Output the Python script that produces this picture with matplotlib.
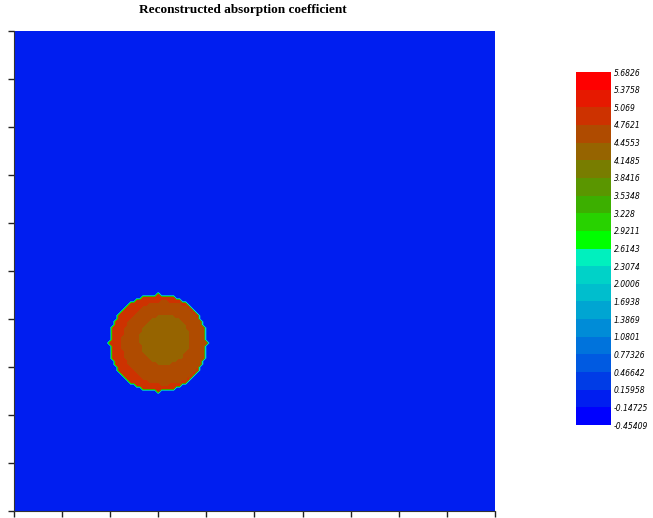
import numpy as np
import matplotlib
matplotlib.use("Agg")
import matplotlib.pyplot as plt
from matplotlib.colors import ListedColormap, BoundaryNorm
import matplotlib.colorbar as mcolorbar

# colour levels shown on the colour bar (bottom -> top)
niveis = [-0.45409, -0.14725, 0.15958, 0.46642, 0.77326, 1.0801, 1.3869,
          1.6938, 2.0006, 2.3074, 2.6143, 2.9211, 3.228, 3.5348, 3.8416,
          4.1485, 4.4553, 4.7621, 5.069, 5.3758, 5.6826]
rotulos = ["-0.45409", "-0.14725", "0.15958", "0.46642", "0.77326", "1.0801",
           "1.3869", "1.6938", "2.0006", "2.3074", "2.6143", "2.9211", "3.228",
           "3.5348", "3.8416", "4.1485", "4.4553", "4.7621", "5.069", "5.3758",
           "5.6826"]
cores = [
    (0, 0, 255), (0, 30, 240), (0, 60, 230), (0, 90, 225), (0, 115, 220),
    (0, 140, 215), (0, 165, 210), (0, 190, 205), (0, 210, 200), (0, 240, 190),
    (0, 255, 0), (40, 210, 0), (60, 175, 0), (90, 150, 0), (120, 125, 0),
    (150, 100, 0), (175, 75, 0), (205, 50, 0), (230, 25, 0), (255, 0, 0),
]

# reconstructed field: background + inclusion (nested discs)
fundo = 0.0
discos_x = [3.0, 3.12, 3.14]
discos_y = [3.5, 3.5, 3.57]
discos_r = [1.0, 0.88, 0.53]
discos_val = [4.9, 4.6, 4.3]

n = 161
x = np.linspace(0, 10, n)
y = np.linspace(0, 10, n)
X, Y = np.meshgrid(x, y)
campo = np.full_like(X, fundo)
for cx, cy, r, v in zip(discos_x, discos_y, discos_r, discos_val):
    campo[(X - cx) ** 2 + (Y - cy) ** 2 <= r ** 2] = v

cmap = ListedColormap([tuple(c / 255 for c in rgb) for rgb in cores])
norm = BoundaryNorm(niveis, cmap.N)

fig = plt.figure(figsize=(6.53, 5.18), dpi=100)
ax = fig.add_axes([0.0214, 0.0135, 0.7366, 0.9266])
ax.contourf(X, Y, campo, levels=niveis, cmap=cmap, norm=norm)
ax.set_xlim(0, 10)
ax.set_ylim(0, 10)
ax.set_xticks(np.arange(0, 11))
ax.set_yticks(np.arange(0, 11))
ax.set_xticklabels([])
ax.set_yticklabels([])
ax.tick_params(direction="out", length=4, width=1, color="#222222")
ax.spines["top"].set_visible(False)
ax.spines["right"].set_visible(False)
ax.spines["left"].set_color("#333333")
ax.spines["bottom"].set_color("#333333")

fig.text(243 / 653, 1 - 10 / 518, "Reconstructed absorption coefficient",
         ha="center", va="center", fontsize=9.5, fontweight="bold",
         family="Liberation Serif")

cax = fig.add_axes([0.882, 0.1795, 0.0536, 0.6815])
cb = mcolorbar.ColorbarBase(cax, cmap=cmap, norm=norm, boundaries=niveis,
                            ticks=niveis, spacing="uniform")
cb.set_ticklabels(rotulos)
cb.outline.set_visible(False)
cax.tick_params(length=0, pad=2)
for t in cax.get_yticklabels():
    t.set_fontsize(5.5)
    t.set_fontstyle("italic")

fig.savefig("out.png", dpi=100)
